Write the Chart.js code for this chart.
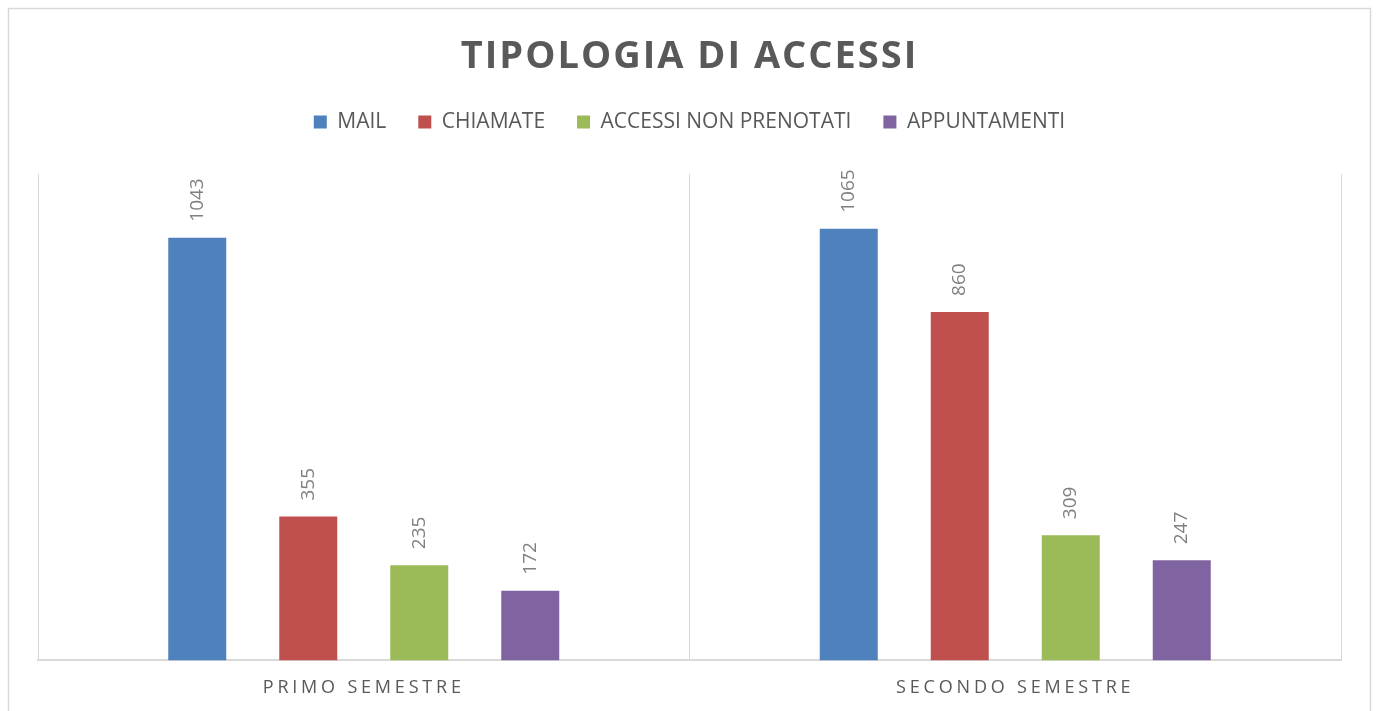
<!DOCTYPE html>
<html>
<head>
<meta charset="utf-8">
<script src="https://cdn.jsdelivr.net/npm/chart.js@4"></script>
<style>
  html, body { margin: 0; padding: 0; background: #fff; }
  #wrap { width: 1378px; height: 711px; }
</style>
</head>
<body>
<div id="wrap"><canvas id="chart__accessi"></canvas></div>
<script>
const categories = ["PRIMO SEMESTRE", "SECONDO SEMESTRE"];
const mail = [1043, 1065];
const chiamate = [355, 860];
const accessiNonPrenotati = [235, 309];
const appuntamenti = [172, 247];

const FONT = "'Open Sans', 'Noto Sans', sans-serif";
const TEXT = "#595959";

// outer frame like the office chart border
const framePlugin = {
  id: "frame",
  beforeDraw(chart) {
    const ctx = chart.ctx;
    ctx.save();
    ctx.strokeStyle = "#d9d9d9";
    ctx.lineWidth = 1.5;
    ctx.strokeRect(8.5, 8.5, 1362, 720);
    ctx.restore();
  },
};

// more room under the legend + letter spacing on title and x labels
const spacingPlugin = {
  id: "spacing",
  beforeLayout(chart) {
    const lg = chart.legend;
    if (lg && !lg._patched) {
      const fit = lg.fit;
      lg.fit = function () {
        fit.call(this);
        this.height += 31.5;
      };
      lg._patched = true;
    }
    const tb = chart.titleBlock;
    if (tb && !tb._patched) {
      const draw = tb.draw;
      tb.draw = function () {
        chart.ctx.save();
        chart.ctx.letterSpacing = "2px";
        draw.apply(this, arguments);
        chart.ctx.restore();
      };
      tb._patched = true;
    }
  },
  beforeDraw(chart) {
    const xs = chart.scales.x;
    if (xs && !xs._patched) {
      const drawLabels = xs.drawLabels;
      xs.drawLabels = function () {
        chart.ctx.save();
        chart.ctx.letterSpacing = "3.8px";
        drawLabels.apply(this, arguments);
        chart.ctx.restore();
      };
      xs._patched = true;
    }
  },
};

// vertical value labels above the bars
const valueLabels = {
  id: "valueLabels",
  afterDatasetsDraw(chart) {
    const ctx = chart.ctx;
    ctx.save();
    ctx.font = "19px " + FONT;
    ctx.fillStyle = "#808080";
    ctx.textAlign = "left";
    ctx.textBaseline = "middle";
    chart.data.datasets.forEach((ds, i) => {
      chart.getDatasetMeta(i).data.forEach((bar, j) => {
        ctx.save();
        ctx.translate(bar.x, bar.y - 16);
        ctx.rotate(-Math.PI / 2);
        ctx.fillText(String(ds.data[j]), 0, 0);
        ctx.restore();
      });
    });
    ctx.restore();
  },
};

new Chart(document.getElementById("chart__accessi"), {
  type: "bar",
  data: {
    labels: categories,
    datasets: [
      { label: "MAIL", data: mail, backgroundColor: "#4f81bd" },
      { label: "CHIAMATE", data: chiamate, backgroundColor: "#c0504d" },
      { label: "ACCESSI NON PRENOTATI", data: accessiNonPrenotati, backgroundColor: "#9bbb59" },
      { label: "APPUNTAMENTI", data: appuntamenti, backgroundColor: "#8064a2" },
    ],
  },
  options: {
    responsive: true,
    maintainAspectRatio: false,
    animation: false,
    categoryPercentage: 0.6815,
    barPercentage: 0.5225,
    layout: {
      padding: { top: 8, left: 38, right: 37, bottom: -5 },
    },
    scales: {
      x: {
        grid: {
          color: "#d9d9d9",
          lineWidth: 1,
          drawTicks: false,
          offset: true,
        },
        border: { color: "#d9d9d9", width: 2 },
        ticks: {
          color: TEXT,
          padding: 17,
          font: { family: FONT, size: 18 },
        },
      },
      y: {
        display: false,
        min: 0,
        max: 1200,
      },
    },
    plugins: {
      title: {
        display: true,
        text: "TIPOLOGIA DI ACCESSI",
        color: TEXT,
        font: { family: FONT, size: 38, weight: "bold" },
        padding: { top: 26, bottom: 0 },
      },
      legend: {
        position: "top",
        labels: {
          color: TEXT,
          boxWidth: 13,
          boxHeight: 13,
          padding: 32,
          font: { family: FONT, size: 21 },
        },
      },
      tooltip: { enabled: false },
    },
  },
  plugins: [framePlugin, spacingPlugin, valueLabels],
});
</script>
</body>
</html>
